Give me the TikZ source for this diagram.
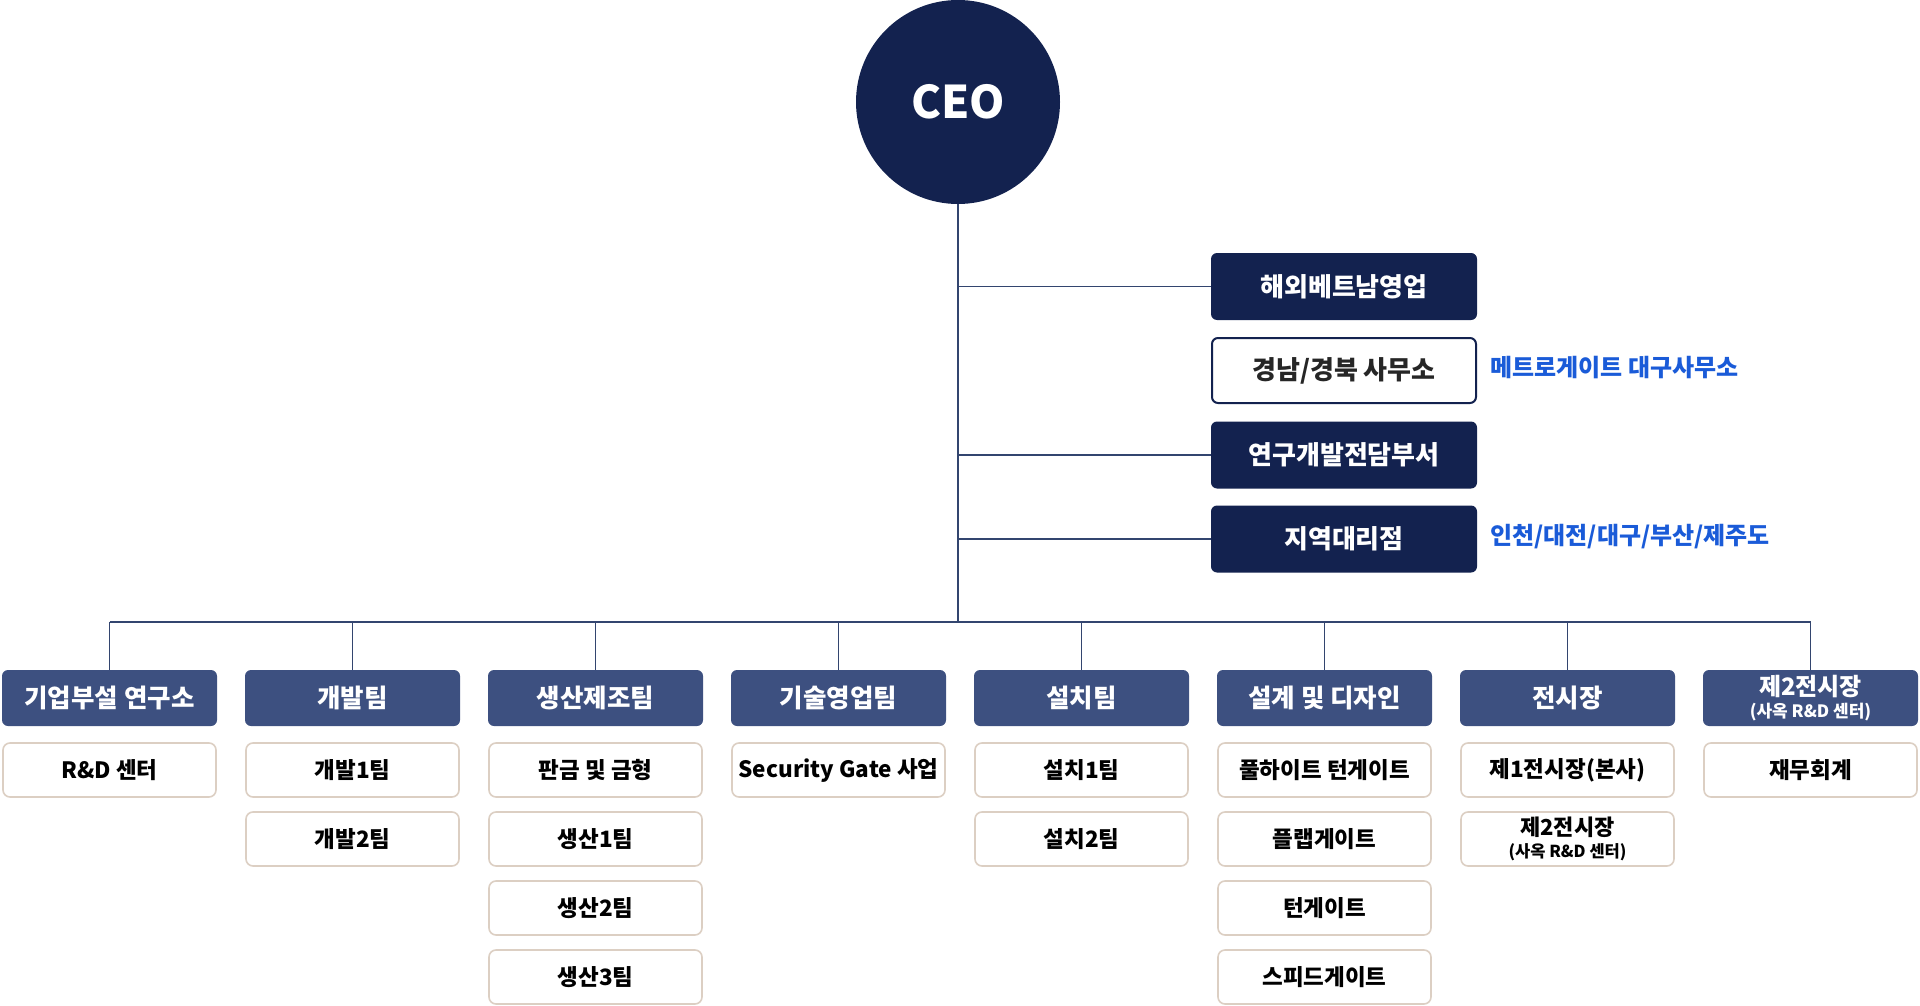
\documentclass[tikz,border=0pt]{standalone}
\usepackage{fontspec}
\setmainfont{Noto Sans CJK KR}
\definecolor{ceoC}{HTML}{13224F}
\definecolor{hdrC}{HTML}{3D5080}
\definecolor{lineC}{HTML}{33456F}
\definecolor{childC}{HTML}{DCCFC3}
\definecolor{blueC}{HTML}{1A5BD8}
\begin{document}
\begin{tikzpicture}[x=1pt,y=-1pt,
  ceo/.style={circle, fill=ceoC, minimum size=204pt, inner sep=0pt, text=white, font=\fontsize{45}{50}\selectfont\bfseries},
  rbox/.style={rectangle, rounded corners=6pt, fill=ceoC, minimum width=266pt, minimum height=67pt, inner sep=0pt, text=white, font=\fontsize{26}{30}\selectfont\bfseries},
  rboxw/.style={rectangle, rounded corners=6pt, draw=ceoC, line width=2pt, fill=white, minimum width=264pt, minimum height=65pt, inner sep=0pt, text=black!85, font=\fontsize{26}{30}\selectfont\bfseries},
  hdr/.style={rectangle, rounded corners=6pt, fill=hdrC, minimum width=215pt, minimum height=56pt, inner sep=0pt, text=white, align=center, font=\fontsize{25.5}{28}\selectfont\bfseries},
  child/.style={rectangle, rounded corners=7pt, draw=childC, line width=1.6pt, fill=white, minimum width=213pt, minimum height=54pt, inner sep=0pt, text=black, align=center, font=\fontsize{22.5}{26}\selectfont\bfseries},
  blue/.style={anchor=west, inner sep=0pt, text=blueC, font=\fontsize{24}{28}\selectfont\bfseries},
  conn/.style={draw=lineC, line width=1.8pt}
]
\path[use as bounding box] (0,0) rectangle (1920,1006);

% CEO
\node[ceo] (ceo) at (958,102) {CEO};

% right-side boxes
\node[rbox]  (r1) at (1344,286.5) {해외베트남영업};
\node[rboxw] (r2) at (1344,370.5) {경남/경북 사무소};
\node[rbox]  (r3) at (1344,455) {연구개발전담부서};
\node[rbox]  (r4) at (1344,539) {지역대리점};
\node[blue]  (b2) at (1490,368) {메트로게이트 대구사무소};
\node[blue]  (b4) at (1490,537) {인천/대전/대구/부산/제주도};

% bus coordinates
\coordinate (busC) at (958,622);
\coordinate (busL) at (109.5,622);
\coordinate (busR) at (1810.5,622);

% headers
\node[hdr] (h1) at (109.5,698) {기업부설 연구소};
\node[hdr] (h2) at (352.5,698) {개발팀};
\node[hdr] (h3) at (595.5,698) {생산제조팀};
\node[hdr] (h4) at (838.5,698) {기술영업팀};
\node[hdr] (h5) at (1081.5,698) {설치팀};
\node[hdr] (h6) at (1324.5,698) {설계 및 디자인};
\node[hdr] (h7) at (1567.5,698) {전시장};
\node[hdr, font=\fontsize{24}{22}\selectfont\bfseries] (h8) at (1810.5,698) {제2전시장\\{\fontsize{17}{19}\selectfont (사옥 R\&D 센터)}};

% children
\node[child] (c11) at (109.5,770) {R\&D 센터};
\node[child] (c21) at (352.5,770) {개발1팀};
\node[child] (c22) at (352.5,839) {개발2팀};
\node[child] (c31) at (595.5,770) {판금 및 금형};
\node[child] (c32) at (595.5,839) {생산1팀};
\node[child] (c33) at (595.5,908) {생산2팀};
\node[child] (c34) at (595.5,977) {생산3팀};
\node[child] (c41) at (838.5,770) {Security Gate 사업};
\node[child] (c51) at (1081.5,770) {설치1팀};
\node[child] (c52) at (1081.5,839) {설치2팀};
\node[child] (c61) at (1324.5,770) {풀하이트 턴게이트};
\node[child] (c62) at (1324.5,839) {플랩게이트};
\node[child] (c63) at (1324.5,908) {턴게이트};
\node[child] (c64) at (1324.5,977) {스피드게이트};
\node[child] (c71) at (1567.5,770) {제1전시장(본사)};
\node[child, font=\fontsize{22}{22}\selectfont\bfseries] (c72) at (1567.5,839) {제2전시장\\{\fontsize{16.5}{18}\selectfont (사옥 R\&D 센터)}};
\node[child] (c81) at (1810.5,770) {재무회계};

% connectors
\path[conn] (ceo.south) -- (busC);
\path[conn] (busL) -- (busR);
\path[conn] (r1.west) -- (r1.west -| ceo.south);
\path[conn] (r3.west) -- (r3.west -| ceo.south);
\path[conn] (r4.west) -- (r4.west -| ceo.south);
\foreach \h in {h1,h2,h3,h4,h5,h6,h7,h8}{
  \path[conn] (\h.north) -- (\h.north |- busC);
}
\end{tikzpicture}
\end{document}
